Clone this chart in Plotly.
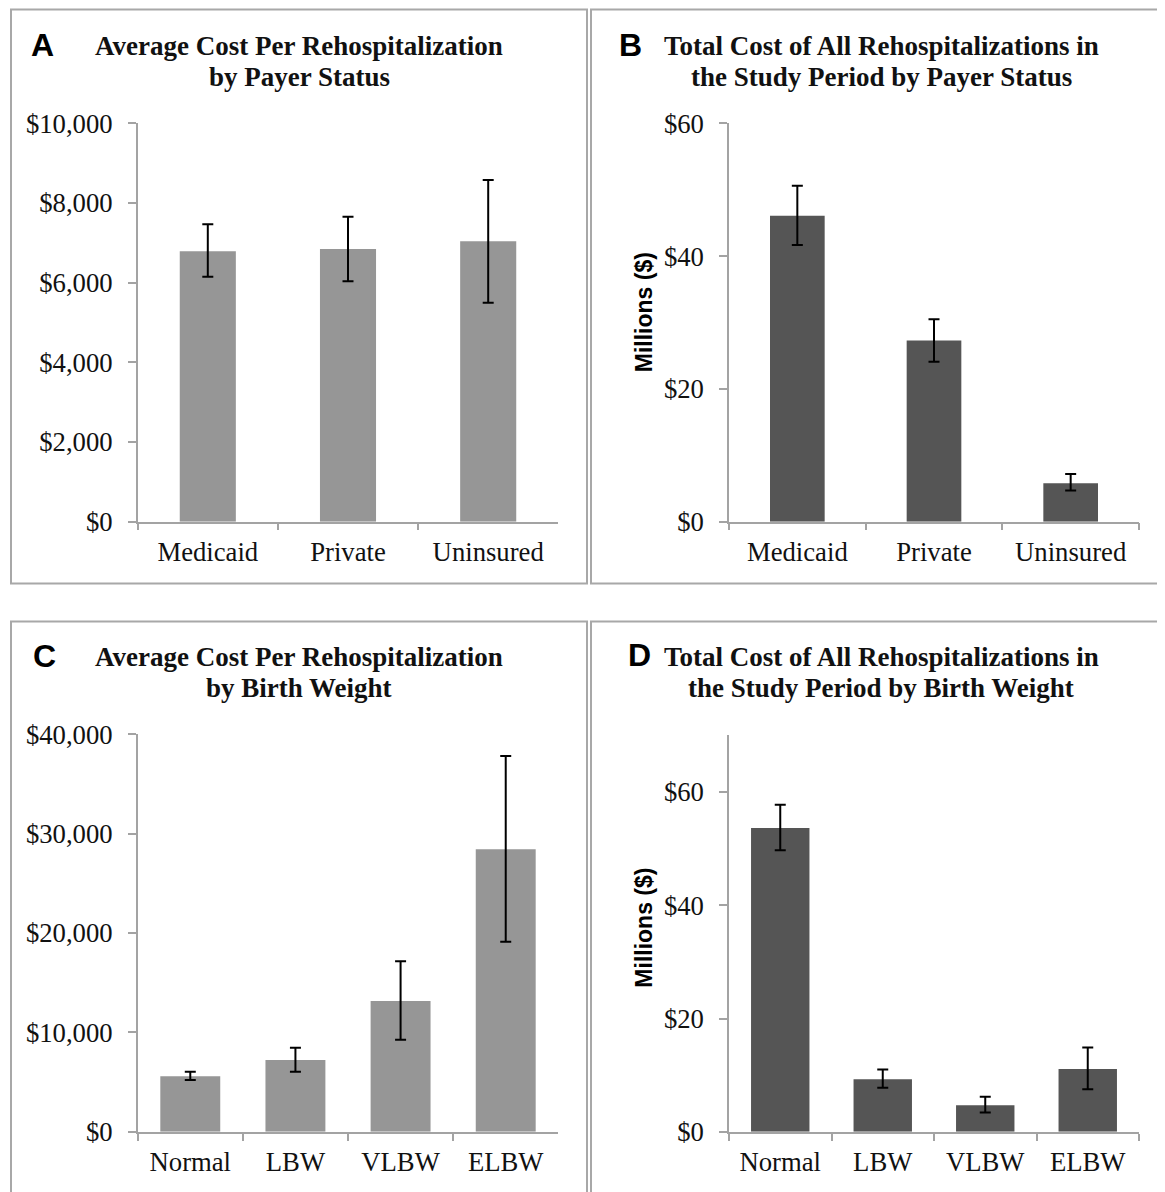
import plotly.graph_objects as go

# ---------------- data ----------------
payer_categories = ["Medicaid", "Private", "Uninsured"]
weight_categories = ["Normal", "LBW", "VLBW", "ELBW"]

# Panel A: average cost per rehospitalization by payer ($)
avg_cost_payer = [6790, 6850, 7040]
avg_cost_payer_low = [6150, 6040, 5500]
avg_cost_payer_high = [7470, 7660, 8580]

# Panel B: total cost by payer (millions $)
total_cost_payer = [46.1, 27.3, 5.8]
total_cost_payer_low = [41.7, 24.1, 4.7]
total_cost_payer_high = [50.6, 30.5, 7.2]

# Panel C: average cost per rehospitalization by birth weight ($)
avg_cost_weight = [5600, 7220, 13160, 28430]
avg_cost_weight_low = [5220, 6050, 9260, 19130]
avg_cost_weight_high = [6050, 8470, 17160, 37800]

# Panel D: total cost by birth weight (millions $)
total_cost_weight = [53.6, 9.3, 4.7, 11.1]
total_cost_weight_low = [49.7, 7.8, 3.4, 7.5]
total_cost_weight_high = [57.7, 11.0, 6.2, 14.9]

# ---------------- layout helpers ----------------
W, H = 1165, 1192
X_OFF = 8.0
Y_OFF = 21.0
Y_SPAN = 1165.0
def px(x):
    return (x - X_OFF) / W
def py(y):
    return 1 - (y - Y_OFF) / Y_SPAN

LIGHT = "#969696"
DARK = "#555555"
AXIS = "#a3a3a3"
SERIF = "Liberation Serif"
SANS = "Liberation Sans"
TICK_SIZE = 26.7
TITLE_SIZE = 27

fig = go.Figure()

def add_panel(idx, cats, vals, lows, highs, color, width):
    plus = [h - v for h, v in zip(highs, vals)]
    minus = [v - l for v, l in zip(vals, lows)]
    fig.add_trace(go.Bar(
        x=cats, y=vals, width=width, marker=dict(color=color, line=dict(width=0)),
        error_y=dict(type="data", symmetric=False, array=plus, arrayminus=minus,
                     color="black", thickness=2, width=5.5),
        xaxis=f"x{idx}" if idx > 1 else "x", yaxis=f"y{idx}" if idx > 1 else "y",
        showlegend=False, hoverinfo="skip",
    ))

add_panel(1, payer_categories, avg_cost_payer, avg_cost_payer_low, avg_cost_payer_high, LIGHT, 0.4)
add_panel(2, payer_categories, total_cost_payer, total_cost_payer_low, total_cost_payer_high, DARK, 0.4)
add_panel(3, weight_categories, avg_cost_weight, avg_cost_weight_low, avg_cost_weight_high, LIGHT, 0.57)
add_panel(4, weight_categories, total_cost_weight, total_cost_weight_low, total_cost_weight_high, DARK, 0.57)

xa_common = dict(showline=True, linecolor=AXIS, linewidth=1.5, ticks="outside",
                 tickson="boundaries", ticklen=7, tickcolor=AXIS, tickwidth=1.5,
                 showgrid=False, zeroline=False,
                 tickfont=dict(family=SERIF, size=TICK_SIZE, color="#111111"),
                 ticklabelstandoff=5)
ya_common = dict(showline=True, linecolor=AXIS, linewidth=1.5, ticks="outside",
                 ticklen=8, tickcolor=AXIS, tickwidth=1.5, showgrid=False, zeroline=False,
                 tickfont=dict(family=SERIF, size=TICK_SIZE, color="#111111"),
                 ticklabelstandoff=10, tickformat="$,d")

xl = [px(137.7), px(558.3)]
xr = [px(729), px(1139)]
yt = [py(521), py(121.7)]
yb = [py(1132.7), py(734)]
ybd = [py(1132.7), py(735)]

fig.update_layout(
    width=W, height=H, margin=dict(l=0, r=0, t=0, b=0),
    paper_bgcolor="white", plot_bgcolor="white",
    xaxis=dict(domain=xl, anchor="y", **xa_common),
    yaxis=dict(domain=yt, anchor="x", range=[0, 10000], tickvals=[0, 2000, 4000, 6000, 8000, 10000], **ya_common),
    xaxis2=dict(domain=xr, anchor="y2", **xa_common),
    yaxis2=dict(domain=yt, anchor="x2", range=[0, 60], tickvals=[0, 20, 40, 60], **ya_common),
    xaxis3=dict(domain=xl, anchor="y3", **xa_common),
    yaxis3=dict(domain=yb, anchor="x3", range=[0, 40000], tickvals=[0, 10000, 20000, 30000, 40000], **ya_common),
    xaxis4=dict(domain=xr, anchor="y4", **xa_common),
    yaxis4=dict(domain=ybd, anchor="x4", range=[0, 70], tickvals=[0, 20, 40, 60], **ya_common),
)

# panel frames
BOX = "#a8a8a8"
for x0, y0, x1, y1 in [(11, 7.5, 587, 583), (591, 7.5, 1200, 583),
                       (11, 621, 587, 1230), (591, 621, 1200, 1230)]:
    fig.add_shape(type="rect", xref="paper", yref="paper",
                  x0=px(x0), x1=px(x1), y0=py(y0), y1=py(y1),
                  line=dict(color=BOX, width=2), fillcolor="rgba(0,0,0,0)")

title_lines = [
    ("Average Cost Per Rehospitalization", 299, 44),
    ("by Payer Status", 299, 75),
    ("Total Cost of All Rehospitalizations in", 881, 44),
    ("the Study Period by Payer Status", 881, 75),
    ("Average Cost Per Rehospitalization", 299, 657),
    ("by Birth Weight", 299, 688),
    ("Total Cost of All Rehospitalizations in", 881, 657),
    ("the Study Period by Birth Weight", 881, 688),
]
for text, cx, cy in title_lines:
    fig.add_annotation(text=f"<b>{text}</b>", xref="paper", yref="paper",
                       x=px(cx), y=py(cy), xanchor="center", yanchor="middle",
                       showarrow=False, font=dict(family=SERIF, size=TITLE_SIZE, color="#111111"))

letters = [("A", 42, 43), ("B", 631, 43), ("C", 44, 656), ("D", 640, 655)]
for t, cx, cy in letters:
    fig.add_annotation(text=f"<b>{t}</b>", xref="paper", yref="paper",
                       x=px(cx), y=py(cy), xanchor="center", yanchor="middle",
                       showarrow=False, font=dict(family=SANS, size=32, color="black"))

for cy in [311, 928]:
    fig.add_annotation(text="<b>Millions ($)</b>", xref="paper", yref="paper",
                       x=px(644), y=py(cy), xanchor="center", yanchor="middle",
                       textangle=-90, showarrow=False,
                       font=dict(family=SANS, size=23, color="black"))

fig.write_html("out.html")
